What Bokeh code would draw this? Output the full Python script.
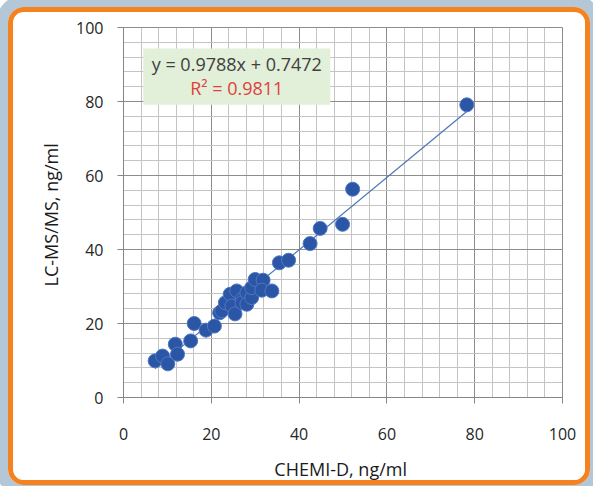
from bokeh.plotting import figure
from bokeh.models import Range1d, SingleIntervalTicker, BoxAnnotation, Label
from bokeh.embed import file_html
from bokeh.resources import INLINE

# CHEMI-D (x) vs LC-MS/MS (y), ng/ml
chemi_d = [7.2, 8.9, 10.1, 11.8, 12.3, 15.3, 16.1, 18.8, 20.7, 21.9, 22.4,
           23.2, 24.3, 24.7, 25.4, 25.8, 27.0, 27.0, 28.1, 28.1, 29.2, 29.2,
           30.0, 31.8, 31.5, 33.8, 35.5, 37.6, 42.5, 44.8, 49.9, 52.2, 78.2]
lcmsms = [9.9, 11.2, 9.1, 14.4, 11.7, 15.3, 20.0, 18.2, 19.3, 22.9, 23.4,
          25.6, 27.9, 24.7, 22.6, 28.8, 26.5, 25.6, 28.3, 25.2, 27.0, 29.7,
          31.9, 31.7, 29.0, 28.8, 36.4, 37.1, 41.6, 45.7, 46.8, 56.3, 79.1]
slope = 0.9788
intercept = 0.7472
r_squared = 0.9811

p = figure(width=582, height=478, output_backend="svg", toolbar_location=None,
           x_range=Range1d(0, 100), y_range=Range1d(0, 100),
           min_border_left=110, min_border_right=33, min_border_top=15,
           min_border_bottom=93)
p.styles = {"border": "5px solid #F5821F", "border-radius": "16px",
            "overflow": "hidden", "margin": "7px 0px 0px 8px",
            "box-shadow": "0 0 0 12px #b3c7d6"}
p.background_fill_color = "white"
p.border_fill_color = "white"
p.outline_line_color = "#8c8c8c"

for ax in (p.xaxis[0], p.yaxis[0]):
    ax.ticker = SingleIntervalTicker(interval=20, num_minor_ticks=5)
    ax.axis_line_color = "#868686"
    ax.major_tick_line_color = "#868686"
    ax.major_tick_out = 6
    ax.major_tick_in = 0
    ax.minor_tick_line_color = None
    ax.major_label_text_font = "Open Sans"
    ax.major_label_text_font_size = "16px"
    ax.major_label_text_color = "#262626"
    ax.axis_label_text_font = "Open Sans"
    ax.axis_label_text_font_size = "18px"
    ax.axis_label_text_font_style = "normal"
    ax.axis_label_text_color = "#1a1a1a"

p.xaxis.axis_label = "CHEMI-D,  ng/ml"
p.yaxis.axis_label = "LC-MS/MS,  ng/ml"
p.xaxis.major_label_standoff = 24
p.yaxis.major_label_standoff = 14
p.xaxis.axis_label_standoff = 14
p.yaxis.axis_label_standoff = 10

for g in (p.xgrid[0], p.ygrid[0]):
    g.grid_line_color = "#8c8c8c"
    g.grid_line_width = 1
    g.minor_grid_line_color = "#c4c4c4"
    g.minor_grid_line_width = 1

# equation box
p.add_layout(BoxAnnotation(left=4.5, right=47.1, bottom=79.1, top=94.3,
                           fill_color="#e2efd9", fill_alpha=1.0,
                           line_color=None, level="overlay"))
p.add_layout(Label(x=25.8, y=90.1, text=f"y = {slope}x + {intercept}",
                   text_font="Open Sans", text_font_size="18px",
                   text_color="#404040", text_align="center",
                   text_baseline="middle", level="overlay"))
p.add_layout(Label(x=25.8, y=83.6, text=f"R\u00b2 = {r_squared}",
                   text_font="Open Sans", text_font_size="18px",
                   text_color="#e0413b", text_align="center",
                   text_baseline="middle", level="overlay"))

# trend line
x0, x1 = min(chemi_d), max(chemi_d)
p.line([x0, x1], [slope * x0 + intercept, slope * x1 + intercept],
       line_color="#4a76b8", line_width=1.2)

p.scatter(chemi_d, lcmsms, size=14, fill_color="#2b55a5",
          line_color="#4f78c4", line_width=1)

open("out.html", "w").write(file_html(p, INLINE))
